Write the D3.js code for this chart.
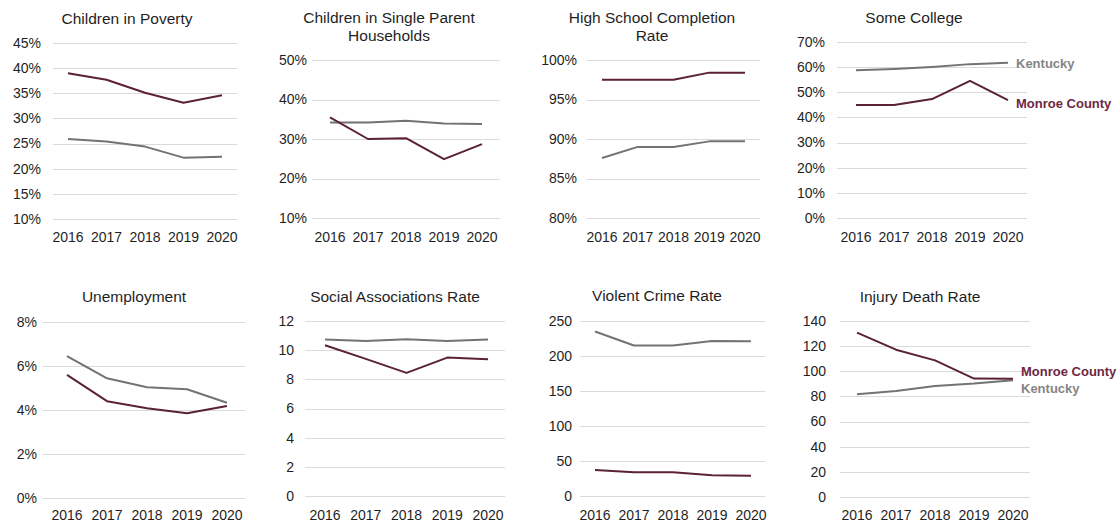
<!DOCTYPE html>
<html>
<head>
<meta charset="utf-8">
<script src="https://cdn.jsdelivr.net/npm/d3@7"></script>
<style>
  body { margin: 0; background: #ffffff; }
  svg { display: block; }
</style>
</head>
<body>
<svg id="chart" width="1120" height="523"></svg>
<script>
// categories
var years = ["2016", "2017", "2018", "2019", "2020"];

// series values
var povertyMonroe = [39.0, 37.7, 35.1, 33.1, 34.6];
var povertyKentucky = [25.9, 25.4, 24.4, 22.2, 22.4];
var singleMonroe = [35.5, 30.0, 30.2, 24.9, 28.7];
var singleKentucky = [34.2, 34.2, 34.6, 33.9, 33.8];
var schoolMonroe = [97.5, 97.5, 97.5, 98.4, 98.4];
var schoolKentucky = [87.6, 89.0, 89.0, 89.7, 89.7];
var collegeMonroe = [44.9, 44.9, 47.3, 54.5, 46.9];
var collegeKentucky = [58.8, 59.3, 60.1, 61.2, 61.7];
var unemploymentMonroe = [5.6, 4.4, 4.08, 3.85, 4.18];
var unemploymentKentucky = [6.45, 5.44, 5.03, 4.94, 4.33];
var socialMonroe = [10.34, 9.4, 8.44, 9.49, 9.38];
var socialKentucky = [10.73, 10.63, 10.75, 10.63, 10.73];
var crimeMonroe = [37, 34, 34, 29.5, 29];
var crimeKentucky = [235, 215, 215, 221.5, 221];
var injuryMonroe = [130.8, 117.2, 108.7, 94.2, 94];
var injuryKentucky = [81.7, 84.3, 88.3, 90.2, 92.8];

// tick labels
var povertyTicks = [10, 15, 20, 25, 30, 35, 40, 45];
var singleTicks = [10, 20, 30, 40, 50];
var schoolTicks = [80, 85, 90, 95, 100];
var collegeTicks = [0, 10, 20, 30, 40, 50, 60, 70];
var unemploymentTicks = [0, 2, 4, 6, 8];
var socialTicks = [0, 2, 4, 6, 8, 10, 12];
var crimeTicks = [0, 50, 100, 150, 200, 250];
var injuryTicks = [0, 20, 40, 60, 80, 100, 120, 140];

var chartTitles = [
  ["Children in Poverty"],
  ["Children in Single Parent", "Households"],
  ["High School Completion", "Rate"],
  ["Some College"],
  ["Unemployment"],
  ["Social Associations Rate"],
  ["Violent Crime Rate"],
  ["Injury Death Rate"]
];
var seriesNames = ["Monroe County", "Kentucky"];

var panels = [
  {title: chartTitles[0], monroe: povertyMonroe, kentucky: povertyKentucky, ticks: povertyTicks, pct: true},
  {title: chartTitles[1], monroe: singleMonroe, kentucky: singleKentucky, ticks: singleTicks, pct: true},
  {title: chartTitles[2], monroe: schoolMonroe, kentucky: schoolKentucky, ticks: schoolTicks, pct: true},
  {title: chartTitles[3], monroe: collegeMonroe, kentucky: collegeKentucky, ticks: collegeTicks, pct: true, legend: true},
  {title: chartTitles[4], monroe: unemploymentMonroe, kentucky: unemploymentKentucky, ticks: unemploymentTicks, pct: true},
  {title: chartTitles[5], monroe: socialMonroe, kentucky: socialKentucky, ticks: socialTicks, pct: false},
  {title: chartTitles[6], monroe: crimeMonroe, kentucky: crimeKentucky, ticks: crimeTicks, pct: false},
  {title: chartTitles[7], monroe: injuryMonroe, kentucky: injuryKentucky, ticks: injuryTicks, pct: false, legend: true}
];

// where each small chart sits on the page
var layout = [
  {left: 53,  right: 237,  x0: 68,  x1: 222,  top: 43,  bottom: 219, labelX: 41,  titleX: 127, titleY: 19,  xLabelY: 237, dyM: 0,  dyK: 0},
  {left: 312, right: 500,  x0: 330, x1: 482,  top: 60,  bottom: 218, labelX: 307, titleX: 389, titleY: 18,  xLabelY: 237, dyM: 0,  dyK: 0},
  {left: 587, right: 760,  x0: 602, x1: 745,  top: 60,  bottom: 218, labelX: 577, titleX: 652, titleY: 18,  xLabelY: 237, dyM: 0,  dyK: 0},
  {left: 837, right: 1027, x0: 856, x1: 1008, top: 42,  bottom: 218, labelX: 825, titleX: 914, titleY: 18,  xLabelY: 237, dyM: 3,  dyK: 1},
  {left: 43,  right: 245,  x0: 67,  x1: 227,  top: 322, bottom: 498, labelX: 37,  titleX: 134, titleY: 297, xLabelY: 515, dyM: 0,  dyK: 0},
  {left: 305, right: 505,  x0: 325, x1: 488,  top: 321, bottom: 496, labelX: 294, titleX: 395, titleY: 297, xLabelY: 515, dyM: 0,  dyK: 0},
  {left: 580, right: 765,  x0: 595, x1: 751,  top: 321, bottom: 496, labelX: 572, titleX: 657, titleY: 296, xLabelY: 515, dyM: 0,  dyK: 0},
  {left: 840, right: 1030, x0: 857, x1: 1013, top: 321, bottom: 497, labelX: 826, titleX: 920, titleY: 297, xLabelY: 515, dyM: -7, dyK: 8}
];

var monroeColor = "#5a2234";
var kentuckyColor = "#737373";
var monroeText = "#6e2842";
var kentuckyText = "#858585";
var gridColor = "#dadada";
var textColor = "#1f1f1f";
var fontFamily = "'Liberation Sans', Arial, sans-serif";

var svg = d3.select("#chart");

function drawPanel(p, box){
    var g = svg.append("g");
    var ext = d3.extent(p.ticks);

    var x = d3.scalePoint()
        .domain(years)
        .range([box.x0, box.x1]);
    var y = d3.scaleLinear()
        .domain(ext)
        .range([box.bottom, box.top]);

// grid lines
    g.selectAll("line.grid")
        .data(p.ticks)
        .enter()
        .append("line")
        .attr("class", "grid")
        .attr("x1", box.left)
        .attr("x2", box.right)
        .attr("y1", function(d){return Math.round(y(d)) + 0.5;})
        .attr("y2", function(d){return Math.round(y(d)) + 0.5;})
        .attr("stroke", gridColor)
        .attr("stroke-width", 1);

// y tick labels
    g.selectAll("text.ytick")
        .data(p.ticks)
        .enter()
        .append("text")
        .attr("class", "ytick")
        .text(function(d){return p.pct ? d + "%" : d;})
        .attr("x", box.labelX)
        .attr("y", function(d){return y(d);})
        .attr("dy", "0.35em")
        .attr("text-anchor", "end")
        .attr("font-size", "14px")
        .attr("font-family", fontFamily)
        .attr("fill", textColor);

// x tick labels
    g.selectAll("text.xtick")
        .data(years)
        .enter()
        .append("text")
        .attr("class", "xtick")
        .text(function(d){return d;})
        .attr("x", function(d){return x(d);})
        .attr("y", box.xLabelY)
        .attr("dy", "0.35em")
        .attr("text-anchor", "middle")
        .attr("font-size", "14px")
        .attr("font-family", fontFamily)
        .attr("fill", textColor);

// title
    g.selectAll("text.title")
        .data(p.title)
        .enter()
        .append("text")
        .attr("class", "title")
        .text(function(d){return d;})
        .attr("x", box.titleX)
        .attr("y", function(d, i){return box.titleY + i * 18;})
        .attr("dy", "0.35em")
        .attr("text-anchor", "middle")
        .attr("font-size", "15.5px")
        .attr("font-family", fontFamily)
        .attr("fill", textColor);

// lines
    var line = d3.line()
        .x(function(d, i){return x(years[i]);})
        .y(function(d){return y(d);});

    g.append("path")
        .datum(p.kentucky)
        .attr("d", line)
        .attr("fill", "none")
        .attr("stroke", kentuckyColor)
        .attr("stroke-width", 2)
        .attr("stroke-linejoin", "round");

    g.append("path")
        .datum(p.monroe)
        .attr("d", line)
        .attr("fill", "none")
        .attr("stroke", monroeColor)
        .attr("stroke-width", 2)
        .attr("stroke-linejoin", "round");

// series labels at the line ends
    if(p.legend){
        var last = years.length - 1;
        var ends = [
            {name: seriesNames[0], v: p.monroe[last], dy: box.dyM, color: monroeText},
            {name: seriesNames[1], v: p.kentucky[last], dy: box.dyK, color: kentuckyText}
        ];
        g.selectAll("text.series")
            .data(ends)
            .enter()
            .append("text")
            .attr("class", "series")
            .text(function(d){return d.name;})
            .attr("x", x(years[last]) + 8)
            .attr("y", function(d){return y(d.v) + d.dy;})
            .attr("dy", "0.35em")
            .attr("font-size", "13px")
            .attr("font-weight", "bold")
            .attr("font-family", fontFamily)
            .attr("fill", function(d){return d.color;});
    }
}

panels.forEach(function(p, i){
    drawPanel(p, layout[i]);
});
</script>
</body>
</html>
